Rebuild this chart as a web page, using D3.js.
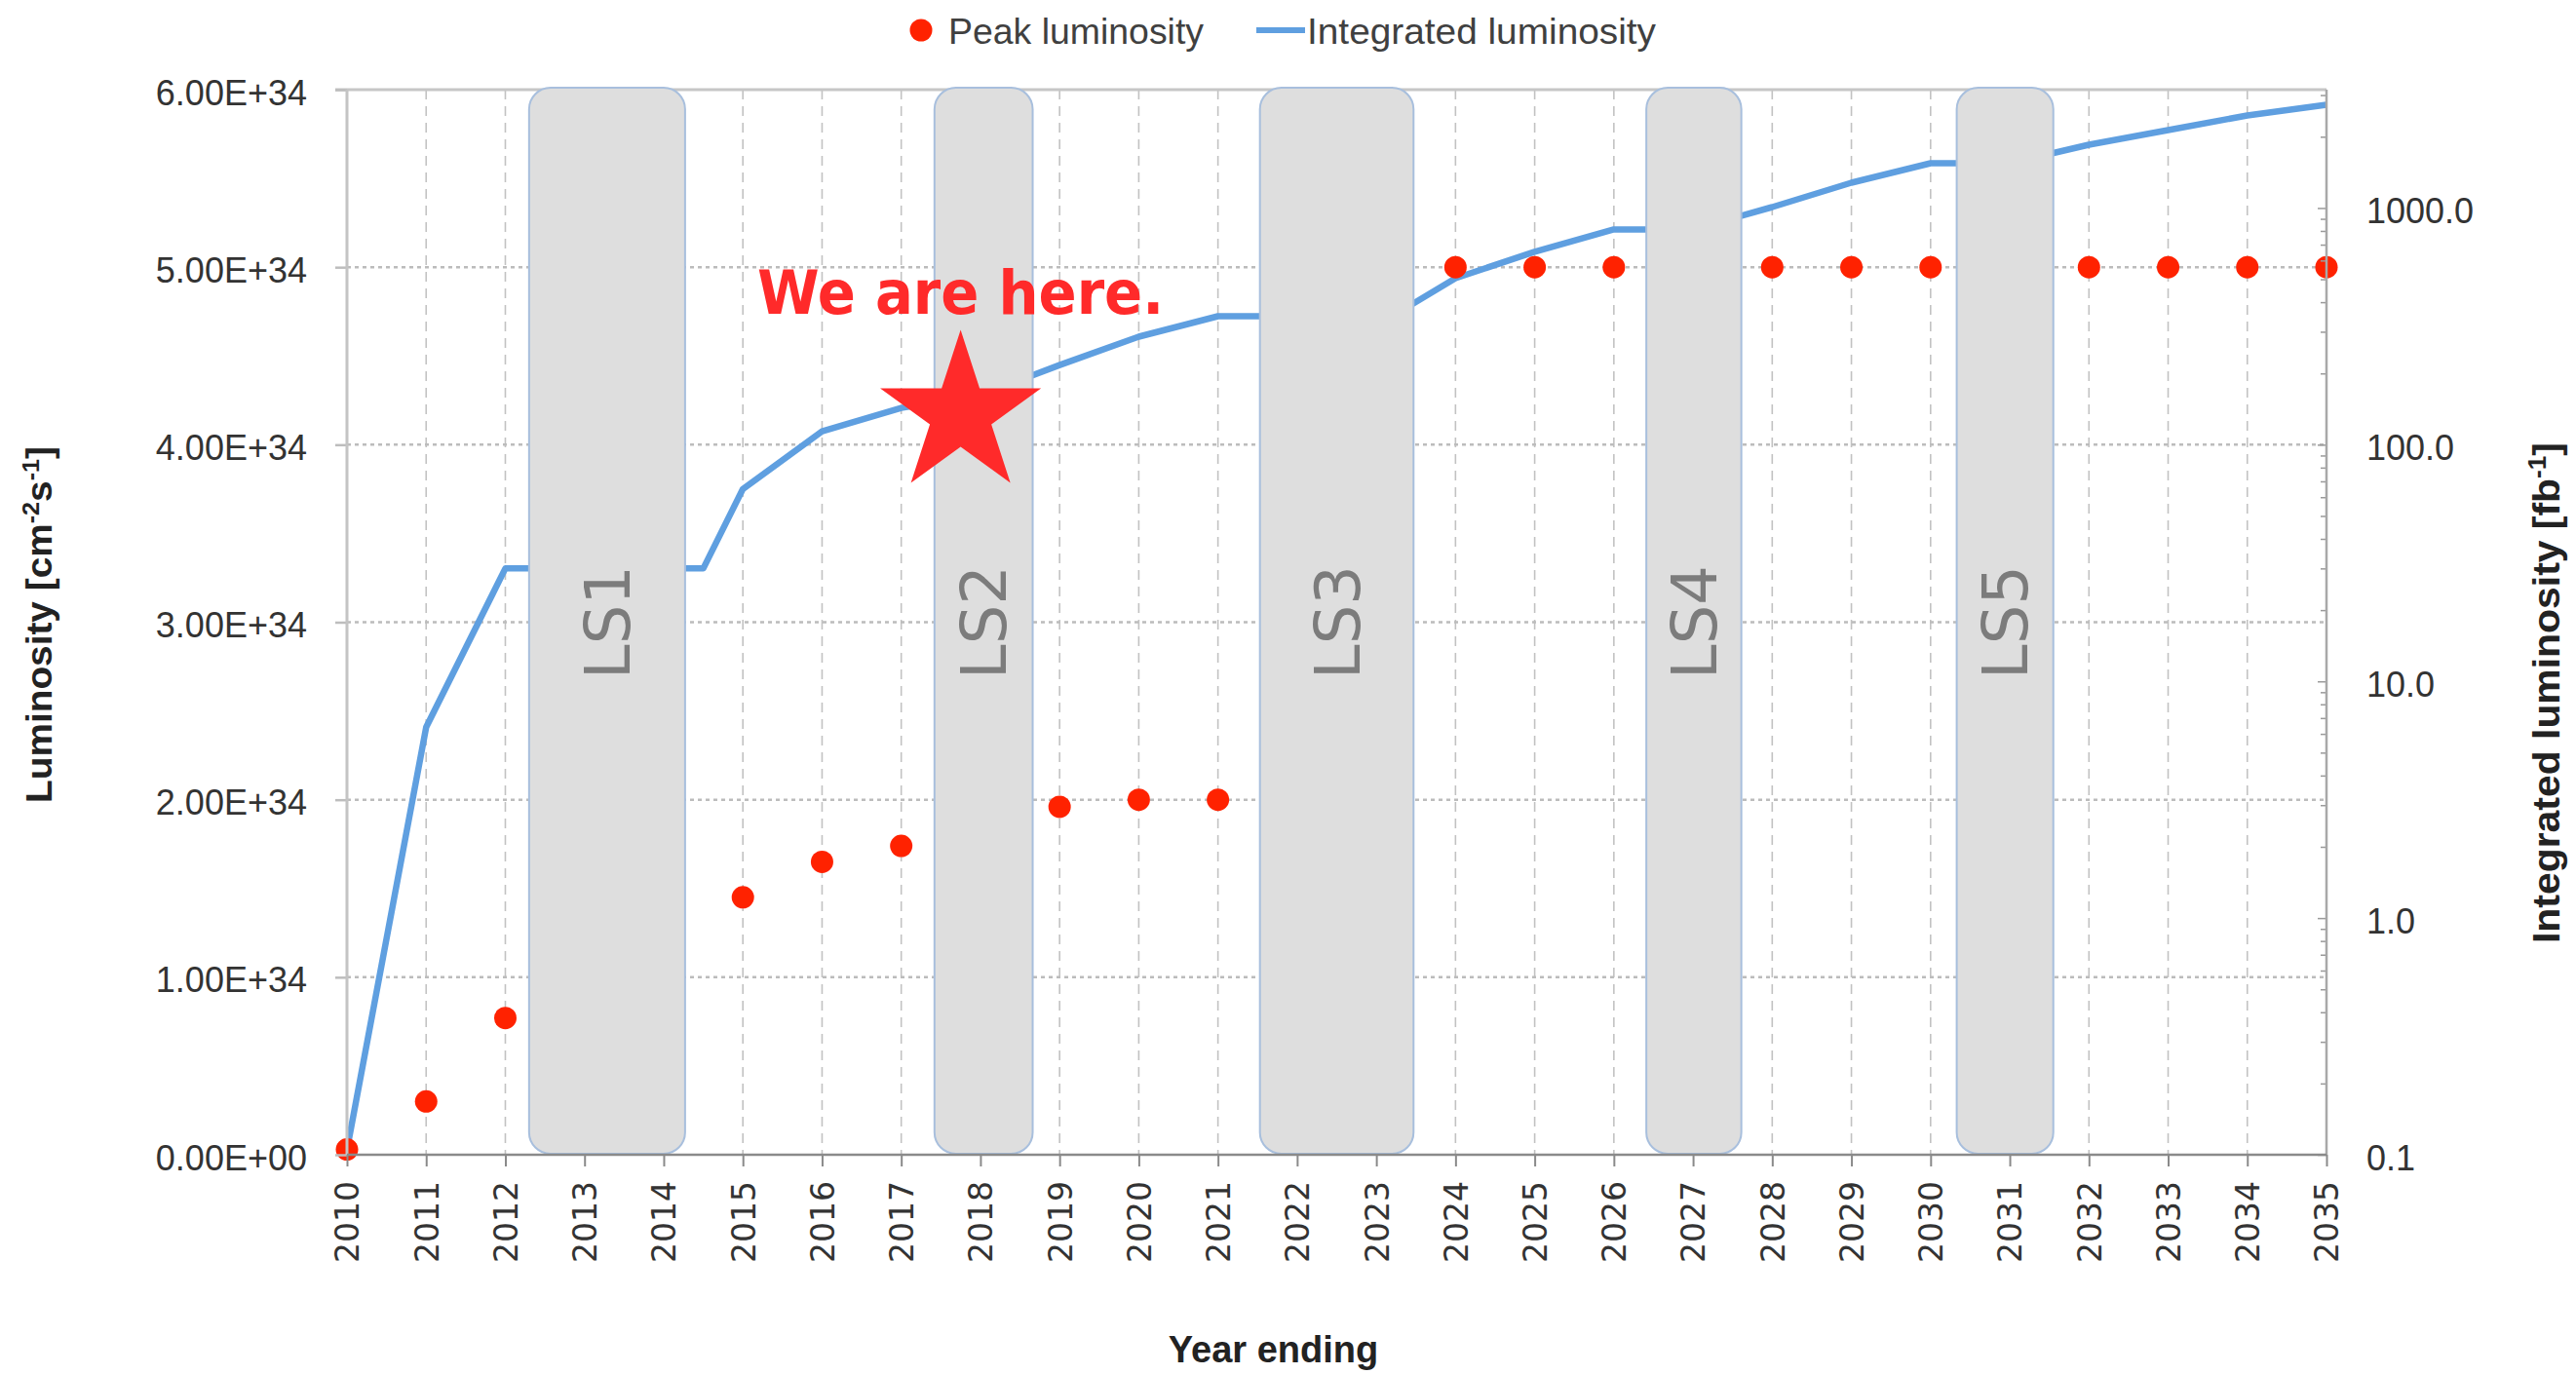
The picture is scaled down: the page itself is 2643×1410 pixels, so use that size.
<!DOCTYPE html>
<html><head><meta charset="utf-8">
<script src="https://cdn.jsdelivr.net/npm/d3@7"></script>
<style>
html,body{margin:0;padding:0;background:#fff;}
svg{display:block;}
</style></head>
<body>
<svg id="chart" width="2643" height="1410"></svg>
<script>
// ---------------- data ----------------
const years = [2010,2011,2012,2013,2014,2015,2016,2017,2018,2019,2020,2021,2022,2023,2024,2025,2026,2027,2028,2029,2030,2031,2032,2033,2034,2035];
const yearLabels = years.map(String);

const peakYears = [2010,2011,2012,2015,2016,2017,2019,2020,2021,2024,2025,2026,2028,2029,2030,2032,2033,2034,2035];
const peakLumi  = [0.03e34,0.30e34,0.77e34,1.45e34,1.65e34,1.74e34,1.96e34,2.0e34,2.0e34,5e34,5e34,5e34,5e34,5e34,5e34,5e34,5e34,5e34,5e34];

const intYears = [2010,2011,2012,2014.5,2015,2016,2017,2018,2019,2020,2021,2023.2,2024,2025,2026,2027,2028,2029,2030,2031,2032,2033,2034,2035];
const intLumi  = [0.105,6.4,30,30,65,114,143,162,217,286,349,349,505,653,812,812,1009,1279,1546,1546,1851,2135,2459,2730];

const leftTicks = [0,1e34,2e34,3e34,4e34,5e34,6e34];
const leftTickLabels = ["0.00E+00","1.00E+34","2.00E+34","3.00E+34","4.00E+34","5.00E+34","6.00E+34"];
const rightTicks = [0.1,1,10,100,1000];
const rightTickLabels = ["0.1","1.0","10.0","100.0","1000.0"];

const shutdownNames = ["LS1","LS2","LS3","LS4","LS5"];
const shutdownStart = [2012.30,2017.42,2021.53,2026.41,2030.33];
const shutdownEnd   = [2014.27,2018.66,2023.47,2027.61,2031.55];

const seriesNames = ["Peak luminosity","Integrated luminosity"];
const markerText = "We are here.";
const markerYear = 2017.75;
const markerLumi = 4.17e34;
const markerTextLumi = 4.735e34;

// ---------------- layout ----------------
const W = 2643, H = 1410;
const m = {l:356, r:2387, t:92, b:1185};
const x  = d3.scaleLinear().domain([2010,2035]).range([m.l,m.r]);
const yL = d3.scaleLinear().domain([0,6e34]).range([m.b,m.t]);
const yR = d3.scaleLog().domain([0.1,Math.pow(10,3.5)]).range([m.b,m.t]);

const svg = d3.select("#chart");
svg.append("rect").attr("width",W).attr("height",H).attr("fill","#fff");

const labelFont = "'Liberation Sans', Arial, sans-serif";
const yearFont = "'DejaVu Sans', Verdana, sans-serif";

// gridlines
svg.append("g").selectAll("line").data(years.slice(1,-1)).join("line")
  .attr("x1",d=>x(d)).attr("x2",d=>x(d)).attr("y1",m.t).attr("y2",m.b)
  .attr("stroke","#c2c2c2").attr("stroke-width",1.6).attr("stroke-dasharray","10,7");
svg.append("g").selectAll("line").data(leftTicks.slice(1,-1)).join("line")
  .attr("x1",m.l).attr("x2",m.r).attr("y1",d=>yL(d)).attr("y2",d=>yL(d))
  .attr("stroke","#bcbcbc").attr("stroke-width",2.5).attr("stroke-dasharray","4,4");
// top border
svg.append("line").attr("x1",m.l-12).attr("x2",m.r).attr("y1",m.t).attr("y2",m.t)
  .attr("stroke","#c6c6c6").attr("stroke-width",3);

// integrated luminosity line
const linePts = d3.zip(intYears,intLumi);
svg.append("path").datum(linePts)
  .attr("d", d3.line().x(d=>x(d[0])).y(d=>yR(d[1])))
  .attr("fill","none").attr("stroke","#5f9fe0").attr("stroke-width",6.5)
  .attr("stroke-linejoin","round");

// peak luminosity dots
svg.append("g").selectAll("circle").data(d3.zip(peakYears,peakLumi)).join("circle")
  .attr("cx",d=>x(d[0])).attr("cy",d=>yL(d[1])).attr("r",11.5).attr("fill","#ff2200");

// shutdown boxes
const sd = shutdownNames.map((n,i)=>({name:n,s:shutdownStart[i],e:shutdownEnd[i]}));
svg.append("g").selectAll("rect").data(sd).join("rect")
  .attr("x",d=>x(d.s)).attr("width",d=>x(d.e)-x(d.s))
  .attr("y",m.t-2).attr("height",m.b-m.t+1)
  .attr("rx",22).attr("ry",22)
  .attr("fill","#dedede").attr("stroke","#a8bfdd").attr("stroke-width",2);
svg.append("g").selectAll("text").data(sd).join("text")
  .attr("transform",d=>`translate(${x((d.s+d.e)/2)},${(m.t+m.b)/2}) rotate(-90)`)
  .attr("text-anchor","middle").attr("dy","0.36em")
  .attr("font-family",yearFont).attr("font-size",64).attr("fill","#7c7c7c")
  .text(d=>d.name);

// left axis
const ax1 = svg.append("g").attr("transform",`translate(${m.l},0)`)
  .call(d3.axisLeft(yL).tickValues(leftTicks).tickFormat((d,i)=>leftTickLabels[i]).tickSize(12).tickPadding(29));
ax1.select(".domain").remove();
ax1.selectAll(".tick line").attr("stroke","#bdbdbd").attr("stroke-width",2.5);
ax1.selectAll(".tick text").attr("font-family",labelFont).attr("font-size",36).attr("fill","#333").attr("dy","0.42em");
svg.append("line").attr("x1",m.l).attr("x2",m.l).attr("y1",m.t).attr("y2",m.b)
  .attr("stroke","#c4c4c4").attr("stroke-width",3);

// right axis (log)
const minor = [];
[0.1,1,10,100,1000].forEach(dec=>{for(let k=2;k<=9;k++){const v=dec*k; if(v<=yR.domain()[1]) minor.push(v);}});
const ax2m = svg.append("g").attr("transform",`translate(${m.r},0)`)
  .call(d3.axisRight(yR).tickValues(minor).tickFormat("").tickSizeInner(-6).tickSizeOuter(0));
ax2m.select(".domain").remove();
ax2m.selectAll(".tick line").attr("stroke","#9a9a9a").attr("stroke-width",1.5);
const ax2 = svg.append("g").attr("transform",`translate(${m.r},0)`)
  .call(d3.axisRight(yR).tickValues(rightTicks).tickFormat((d,i)=>rightTickLabels[i]).tickSizeInner(-9).tickSizeOuter(0).tickPadding(41));
ax2.select(".domain").remove();
ax2.selectAll(".tick line").attr("stroke","#9a9a9a").attr("stroke-width",1.5);
ax2.selectAll(".tick text").attr("font-family",labelFont).attr("font-size",36).attr("fill","#333").attr("dy","0.42em");
svg.append("line").attr("x1",m.r).attr("x2",m.r).attr("y1",m.t).attr("y2",m.b)
  .attr("stroke","#a8a8a8").attr("stroke-width",2.5);

// bottom axis
const ax3 = svg.append("g").attr("transform",`translate(0,${m.b})`)
  .call(d3.axisBottom(x).tickValues(years).tickFormat((d,i)=>yearLabels[i]).tickSize(12));
ax3.select(".domain").remove();
ax3.selectAll(".tick line").attr("stroke","#8a8a8a").attr("stroke-width",2);
ax3.selectAll(".tick text")
  .attr("transform","rotate(-90)").attr("x",-27).attr("y",0).attr("dy","0.36em")
  .attr("text-anchor","end")
  .attr("font-family",yearFont).attr("font-size",33).attr("fill","#333");
svg.append("line").attr("x1",m.l).attr("x2",m.r).attr("y1",m.b).attr("y2",m.b)
  .attr("stroke","#8a8a8a").attr("stroke-width",2.5);

// axis titles
svg.append("text").attr("x",(m.l+m.r)/2 - 65).attr("y",1398)
  .attr("text-anchor","middle").attr("font-family",labelFont).attr("font-weight","bold")
  .attr("font-size",38).attr("fill","#222").text("Year ending");

const lt = svg.append("text").attr("transform","translate(40,641) rotate(-90)")
  .attr("text-anchor","middle").attr("dy","0.35em")
  .attr("textLength",366).attr("lengthAdjust","spacingAndGlyphs")
  .attr("font-family",labelFont).attr("font-weight","bold").attr("font-size",37).attr("fill","#222");
lt.append("tspan").text("Luminosity [cm");
lt.append("tspan").attr("baseline-shift","super").attr("font-size",24).text("-2");
lt.append("tspan").text("s");
lt.append("tspan").attr("baseline-shift","super").attr("font-size",24).text("-1");
lt.append("tspan").text("]");

const rt = svg.append("text").attr("transform","translate(2612,711) rotate(-90)")
  .attr("text-anchor","middle").attr("dy","0.35em")
  .attr("textLength",514).attr("lengthAdjust","spacingAndGlyphs")
  .attr("font-family",labelFont).attr("font-weight","bold").attr("font-size",39).attr("fill","#222");
rt.append("tspan").text("Integrated luminosity [fb");
rt.append("tspan").attr("baseline-shift","super").attr("font-size",25).text("-1");
rt.append("tspan").text("]");

// legend
svg.append("circle").attr("cx",945).attr("cy",31).attr("r",11.5).attr("fill","#ff2200");
svg.append("text").attr("x",973).attr("y",45).attr("font-family",labelFont).attr("font-size",37)
  .attr("textLength",262).attr("lengthAdjust","spacingAndGlyphs")
  .attr("fill","#404040").text(seriesNames[0]);
svg.append("line").attr("x1",1289).attr("x2",1339).attr("y1",31).attr("y2",31)
  .attr("stroke","#5f9fe0").attr("stroke-width",6);
svg.append("text").attr("x",1341).attr("y",45).attr("font-family",labelFont).attr("font-size",37)
  .attr("textLength",358).attr("lengthAdjust","spacingAndGlyphs")
  .attr("fill","#404040").text(seriesNames[1]);

// "We are here." marker
const starR = 86.8;
svg.append("path")
  .attr("d", d3.symbol().type(d3.symbolStar).size(starR*starR/0.89081309152928522810)())
  .attr("transform",`translate(${x(markerYear)},${yL(markerLumi)})`)
  .attr("fill","#ff2a2a");
svg.append("text").attr("x",x(markerYear)).attr("y",yL(markerTextLumi))
  .attr("text-anchor","middle").attr("font-family","'DejaVu Sans', sans-serif")
  .attr("textLength",417).attr("lengthAdjust","spacingAndGlyphs")
  .attr("font-weight","bold").attr("font-size",62).attr("fill","#ff2a2a").text(markerText);
</script>
</body></html>
